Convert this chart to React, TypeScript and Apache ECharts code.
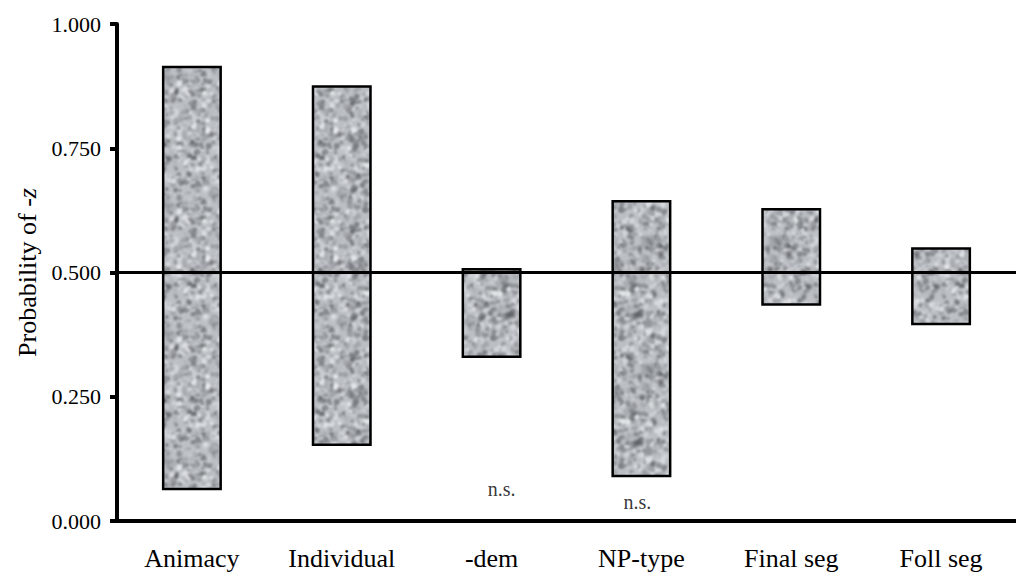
import React, { useEffect, useRef } from "react";
import * as echarts from "echarts";

const categories = ["Animacy", "Individual", "-dem", "NP-type", "Final seg", "Foll seg"];
const lowValues = [0.062, 0.151, 0.328, 0.088, 0.433, 0.394];
const highValues = [0.916, 0.877, 0.509, 0.646, 0.630, 0.551];
const referenceLine = 0.5;
const nsCategories = ["-dem", "NP-type"];
const nsValues = [0.064, 0.038];
const yTicks = { min: 0, max: 1, interval: 0.25 };

const FONT = "Liberation Serif";

function makeTexture(): string {
  const size = 128;
  const big = document.createElement("canvas");
  big.width = size * 3;
  big.height = size * 3;
  const ctx = big.getContext("2d")!;
  let seed = 12345;
  const rnd = () => {
    seed = (seed * 1103515245 + 12345) & 0x7fffffff;
    return seed / 0x7fffffff;
  };
  ctx.fillStyle = "#bcc0c5";
  ctx.fillRect(0, 0, size * 3, size * 3);
  for (let i = 0; i < 1500; i++) {
    const x = rnd() * size;
    const y = rnd() * size;
    const r = 0.8 + rnd() * 2.4;
    const g = Math.floor(75 + rnd() * 180);
    ctx.fillStyle = `rgba(${g},${g + 3},${Math.min(255, g + 7)},0.55)`;
    for (let dx = 0; dx < 3; dx++) {
      for (let dy = 0; dy < 3; dy++) {
        ctx.beginPath();
        ctx.arc(x + dx * size, y + dy * size, r, 0, Math.PI * 2);
        ctx.fill();
      }
    }
  }
  const out = document.createElement("canvas");
  out.width = size;
  out.height = size;
  const ctx2 = out.getContext("2d")!;
  ctx2.filter = "blur(0.9px)";
  ctx2.drawImage(big, -size, -size);
  return out.toDataURL();
}

export default function App() {
  const ref = useRef<HTMLDivElement>(null);
  useEffect(() => {
    document.body.style.margin = "0";
    const chart = echarts.init(ref.current!, undefined, { renderer: "svg" });
    const texture = makeTexture();
    const ranges = highValues.map((h, i) => +(h - lowValues[i]).toFixed(4));
    chart.setOption({
      animation: false,
      backgroundColor: "#ffffff",
      textStyle: { fontFamily: FONT },
      grid: { left: 117, right: -3, top: 24, bottom: 64, containLabel: false },
      xAxis: {
        type: "category",
        data: categories,
        axisLine: { show: true, lineStyle: { color: "#000", width: 4 } },
        axisTick: { show: false },
        axisLabel: { color: "#000", fontFamily: FONT, fontSize: 26, margin: 24, interval: 0 },
      },
      yAxis: {
        type: "value",
        min: yTicks.min,
        max: yTicks.max,
        interval: yTicks.interval,
        name: "{a|Probability of -}{b|z}",
        nameLocation: "middle",
        nameGap: 77,
        nameTextStyle: {
          color: "#000",
          fontFamily: FONT,
          fontSize: 26,
          rich: {
            a: { fontFamily: FONT, fontSize: 26, color: "#000" },
            b: { fontFamily: FONT, fontSize: 26, fontStyle: "italic", color: "#000" },
          },
        },
        axisLine: { show: true, lineStyle: { color: "#000", width: 4, cap: "round" } },
        axisTick: { show: true, length: 7, lineStyle: { color: "#000", width: 4 } },
        axisLabel: {
          color: "#000",
          fontFamily: FONT,
          fontSize: 22,
          margin: 16,
          formatter: (v: number) => v.toFixed(3),
        },
        splitLine: { show: false },
      },
      series: [
        {
          type: "bar",
          stack: "range",
          data: lowValues,
          barWidth: 60,
          itemStyle: { color: "transparent" },
          silent: true,
        },
        {
          type: "bar",
          stack: "range",
          data: ranges,
          barWidth: 60,
          itemStyle: {
            color: { image: texture, repeat: "repeat", imageWidth: 128, imageHeight: 128 } as any,
            borderColor: "#000",
            borderWidth: 2.5,
          },
          markLine: {
            silent: true,
            symbol: "none",
            label: { show: false },
            lineStyle: { color: "#000", width: 3, type: "solid" },
            data: [{ yAxis: referenceLine }],
          },
        },
        {
          type: "scatter",
          symbolSize: 0,
          data: [
            { value: [nsCategories[0], nsValues[0]], label: { offset: [10, 0] } },
            { value: [nsCategories[1], nsValues[1]], label: { offset: [-4, 0] } },
          ],
          label: {
            show: true,
            position: "inside",
            formatter: "n.s.",
            color: "#000",
            fontFamily: FONT,
            fontSize: 20,
          },
        },
      ],
    });
    return () => chart.dispose();
  }, []);
  return (
    <div
      ref={ref}
      style={{ position: "absolute", left: 0, top: 0, width: 1016, height: 585 }}
    />
  );
}
